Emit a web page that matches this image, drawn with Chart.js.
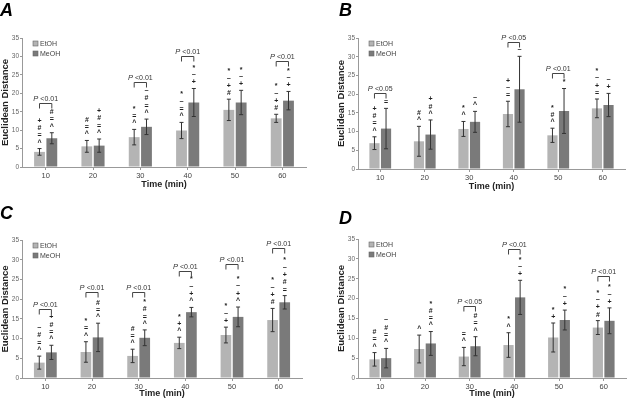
<!DOCTYPE html>
<html>
  <head>
    <meta charset="utf-8">
    <title>Euclidean Distance</title>
    <script src="https://cdn.jsdelivr.net/npm/chart.js"></script>
    <style>
      body { margin: 0; background: #fff; }
      #wrap { position: relative; width: 638px; height: 399px; }
      canvas { position: absolute; }
    </style>
  </head>
  <body>
    <div id="wrap">
      <canvas id="panelA" style="left:0;top:0;"></canvas>
      <canvas id="panelB" style="left:319px;top:0;"></canvas>
      <canvas id="panelC" style="left:0;top:200px;"></canvas>
      <canvas id="panelD" style="left:319px;top:200px;"></canvas>
    </div>
    <script>
        // time points
        const categories = ['10', '20', '30', '40', '50', '60'];
        const yMax = 35;
        const yStep = 5;

        // panel A
        const aEtOH = [4.1, 5.6, 8.1, 9.9, 15.5, 13.2];
        const aEtOHErr = [0.9, 1.6, 2.1, 2.2, 2.9, 1.1];
        const aMeOH = [7.8, 5.8, 10.9, 17.5, 17.5, 18.0];
        const aMeOHErr = [1.5, 1.8, 2.1, 3.8, 3.3, 2.5];
        const aEtOHSym = ['+#=^', '#=^', '*=^', '*~=^', '*~+#', '*~+#'];
        const aMeOHSym = ['#=^', '+#=^', '~#=^', '*~+', '*~+', '*~+'];
        const aPIdx = [0, 2, 3, 5];
        const aPLevel = [17.5, 23.1, 30.1, 28.8];
        const aPText = ['<0.01', '<0.01', '<0.01', '<0.01'];

        // panel B
        const bEtOH = [6.9, 7.4, 10.7, 14.7, 9.0, 16.2];
        const bEtOHErr = [1.7, 4.0, 2.0, 3.4, 1.9, 2.5];
        const bMeOH = [10.8, 9.2, 12.6, 21.3, 15.5, 17.1];
        const bMeOHErr = [5.4, 3.9, 2.8, 8.8, 6.0, 3.1];
        const bEtOHSym = ['+#=^', '#^', '*^', '+~=', '*#^', '*~+='];
        const bMeOHSym = ['=', '+#^', '~^', '~', '*', '~+'];
        const bPIdx = [0, 3, 4];
        const bPLevel = [20.2, 34.0, 25.6];
        const bPText = ['<0.05', '<0.05', '<0.01'];

        // panel C
        const cEtOH = [3.9, 6.6, 5.6, 8.9, 10.9, 14.7];
        const cEtOHErr = [1.65, 2.6, 1.7, 1.45, 2.0, 2.95];
        const cMeOH = [6.5, 10.3, 10.2, 16.7, 15.5, 19.2];
        const cMeOHErr = [1.8, 3.6, 2.0, 1.2, 2.5, 1.7];
        const cEtOHSym = ['~#=^', '*=^', '#=^', '*+^', '*~+', '*~+#'];
        const cMeOHSym = ['+#=^', '#=^', '*#=^', '*~+^', '*~+^', '*~+#='];
        const cPIdx = [0, 1, 2, 3, 4, 5];
        const cPLevel = [17.5, 21.8, 21.8, 27.2, 28.8, 33.0];
        const cPText = ['<0.01', '<0.01', '<0.01', '<0.01', '<0.01', '<0.01'];

        // panel D
        const dEtOH = [4.7, 7.3, 5.4, 8.3, 10.2, 12.7];
        const dEtOHErr = [1.7, 3.5, 2.3, 3.1, 3.65, 1.75];
        const dMeOH = [5.0, 8.7, 8.0, 20.3, 14.6, 14.4];
        const dMeOHErr = [2.45, 3.0, 2.4, 4.3, 2.5, 3.25];
        const dEtOHSym = ['#=^', '^', '=^', '*^', '*+', '*~+#'];
        const dMeOHSym = ['~#=^', '*#=^', '#=^', '*~+', '*~+', '*~+'];
        const dPIdx = [2, 3, 5];
        const dPLevel = [18.1, 32.5, 25.6];
        const dPText = ['<0.05', '<0.01', '<0.01'];

        const FONT = '"Liberation Sans", Arial, sans-serif';
        const colEtOH = '#b4b4b4';
        const colMeOH = '#7a7a7a';

        // error bars plus the significance symbols stacked above them
        const errorBars = {
            id: 'errorBars',
            afterDatasetsDraw(chart) {
                const ctx = chart.ctx;
                const y = chart.scales.y;
                ctx.save();
                chart.data.datasets.forEach((ds, di) => {
                    const meta = chart.getDatasetMeta(di);
                    meta.data.forEach((bar, i) => {
                        const v = ds.data[i];
                        const e = ds.errors[i];
                        const top = y.getPixelForValue(v + e);
                        const bot = y.getPixelForValue(v - e);
                        ctx.strokeStyle = '#333';
                        ctx.lineWidth = 1;
                        ctx.beginPath();
                        ctx.moveTo(bar.x, top);
                        ctx.lineTo(bar.x, bot);
                        ctx.moveTo(bar.x - 2, top);
                        ctx.lineTo(bar.x + 2, top);
                        ctx.moveTo(bar.x - 2, bot);
                        ctx.lineTo(bar.x + 2, bot);
                        ctx.stroke();

                        const syms = ds.symbols[i].split('');
                        ctx.fillStyle = '#222';
                        ctx.font = 'bold 7px ' + FONT;
                        ctx.textAlign = 'center';
                        ctx.textBaseline = 'middle';
                        for (let k = 0; k < syms.length; k++) {
                            const s = syms[syms.length - 1 - k];
                            ctx.fillText(s, bar.x, top - 6 - k * 7.3);
                        }
                    });
                });
                ctx.restore();
            }
        };

        // P value brackets
        const brackets = {
            id: 'brackets',
            afterDraw(chart, args, opts) {
                const ctx = chart.ctx;
                const y = chart.scales.y;
                const m0 = chart.getDatasetMeta(0);
                const m1 = chart.getDatasetMeta(1);
                ctx.save();
                opts.idx.forEach((i, n) => {
                    const x0 = m0.data[i].x;
                    const x1 = m1.data[i].x;
                    const yy = Math.round(y.getPixelForValue(opts.level[n])) + 0.5;
                    ctx.strokeStyle = '#444';
                    ctx.lineWidth = 1;
                    ctx.beginPath();
                    ctx.moveTo(x0, yy + 5);
                    ctx.lineTo(x0, yy);
                    ctx.lineTo(x1, yy);
                    ctx.lineTo(x1, yy + 5);
                    ctx.stroke();

                    ctx.fillStyle = '#333';
                    ctx.textBaseline = 'alphabetic';
                    ctx.textAlign = 'left';
                    ctx.font = 'italic 7.5px ' + FONT;
                    const wp = ctx.measureText('P ').width;
                    ctx.font = '7px ' + FONT;
                    const wt = ctx.measureText(opts.text[n]).width;
                    const sx = (x0 + x1) / 2 - (wp + wt) / 2;
                    ctx.font = 'italic 7.5px ' + FONT;
                    ctx.fillText('P ', sx, yy - 3);
                    ctx.font = '7px ' + FONT;
                    ctx.fillText(opts.text[n], sx + wp, yy - 3);
                });
                ctx.restore();
            }
        };

        // small legend inside the plot plus the panel letter
        const decor = {
            id: 'decor',
            afterDraw(chart, args, opts) {
                const ctx = chart.ctx;
                const area = chart.chartArea;
                ctx.save();
                chart.data.datasets.forEach((ds, di) => {
                    const lx = area.left + 11;
                    const ly = area.top + 3 + di * 10;
                    ctx.fillStyle = ds.backgroundColor;
                    ctx.fillRect(lx, ly, 5, 5);
                    ctx.strokeStyle = '#666';
                    ctx.lineWidth = 0.6;
                    ctx.strokeRect(lx, ly, 5, 5);
                    ctx.fillStyle = '#444';
                    ctx.font = '7px ' + FONT;
                    ctx.textBaseline = 'middle';
                    ctx.textAlign = 'left';
                    ctx.fillText(ds.label, lx + 7, ly + 2.8);
                });
                ctx.fillStyle = '#000';
                ctx.font = 'italic bold 18px ' + FONT;
                ctx.textBaseline = 'alphabetic';
                ctx.fillText(opts.letter, opts.lx, opts.ly);
                ctx.restore();
            }
        };

        function makePanel(id, letter, lx, ly, pad, xHeight,
                           et, etErr, etSym, me, meErr, meSym, pIdx, pLevel, pText) {
            const canvas = document.getElementById(id);
            const h = (id === 'panelA' || id === 'panelB') ? 200 : 199;
            canvas.style.width = '319px';
            canvas.style.height = h + 'px';
            canvas.width = 319;
            canvas.height = h;
            new Chart(canvas, {
                type: 'bar',
                data: {
                    labels: categories,
                    datasets: [{
                        label: 'EtOH',
                        data: et,
                        errors: etErr,
                        symbols: etSym,
                        backgroundColor: colEtOH
                    }, {
                        label: 'MeOH',
                        data: me,
                        errors: meErr,
                        symbols: meSym,
                        backgroundColor: colMeOH
                    }]
                },
                options: {
                    responsive: false,
                    animation: false,
                    events: [],
                    layout: { padding: pad },
                    categoryPercentage: 0.52,
                    barPercentage: 0.88,
                    scales: {
                        x: {
                            afterFit: (s) => { s.height = xHeight; },
                            grid: { drawOnChartArea: false, offset: false, tickLength: 3, color: '#999' },
                            border: { color: '#999' },
                            ticks: { color: '#444', font: { family: FONT, size: 7.5 }, padding: 1 },
                            title: {
                                display: true, text: 'Time (min)', color: '#222',
                                font: { family: FONT, size: 9, weight: 'bold' },
                                padding: { top: 0, bottom: 0 }
                            }
                        },
                        y: {
                            min: 0, max: yMax,
                            afterFit: (s) => { s.width = 22; },
                            grid: { drawOnChartArea: false, tickLength: 2, color: '#999' },
                            border: { color: '#999' },
                            ticks: { stepSize: yStep, color: '#666', font: { family: FONT, size: 6.5 }, padding: 1 },
                            title: {
                                display: true, text: 'Euclidean Distance', color: '#222',
                                font: { family: FONT, size: 9.5, weight: 'bold' },
                                padding: 0
                            }
                        }
                    },
                    plugins: {
                        legend: { display: false },
                        tooltip: { enabled: false },
                        brackets: { idx: pIdx, level: pLevel, text: pText },
                        decor: { letter: letter, lx: lx, ly: ly }
                    }
                },
                plugins: [errorBars, brackets, decor]
            });
        }

        makePanel('panelA', 'A', 0, 16, { left: 0, right: 13, top: 38, bottom: 10 }, 23,
                  aEtOH, aEtOHErr, aEtOHSym, aMeOH, aMeOHErr, aMeOHSym, aPIdx, aPLevel, aPText);
        makePanel('panelB', 'B', 20, 16, { left: 17, right: 13, top: 38, bottom: 8 }, 23,
                  bEtOH, bEtOHErr, bEtOHSym, bMeOH, bMeOHErr, bMeOHSym, bPIdx, bPLevel, bPText);
        makePanel('panelC', 'C', 0, 19, { left: 0, right: 17, top: 40, bottom: 0 }, 21,
                  cEtOH, cEtOHErr, cEtOHSym, cMeOH, cMeOHErr, cMeOHSym, cPIdx, cPLevel, cPText);
        makePanel('panelD', 'D', 20, 24, { left: 17, right: 12, top: 39, bottom: 0 }, 21,
                  dEtOH, dEtOHErr, dEtOHSym, dMeOH, dMeOHErr, dMeOHSym, dPIdx, dPLevel, dPText);
    </script>
  </body>
</html>
